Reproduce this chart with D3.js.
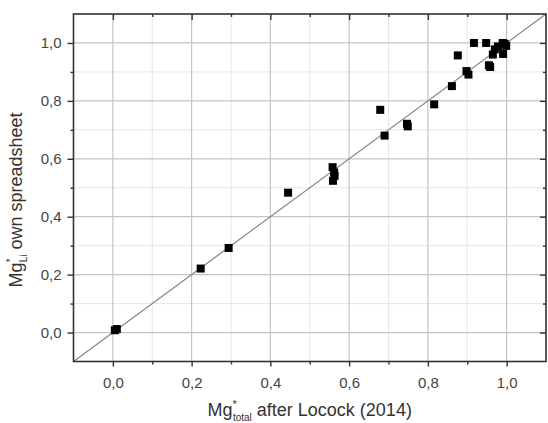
<!DOCTYPE html>
<html>
<head>
<meta charset="utf-8">
<script src="https://cdn.jsdelivr.net/npm/d3@7"></script>
<style>
  html, body { margin: 0; padding: 0; background: #fff; }
  svg { display: block; font-family: "Liberation Sans", Arial, sans-serif; }
</style>
</head>
<body>
<svg id="chart" width="548" height="423"></svg>
<script>
// Mg* comparison: Locock (2014) vs. own spreadsheet
const mgTotal = [0.005, 0.010, 0.223, 0.294, 0.445, 0.558, 0.562, 0.563, 0.559,
                 0.679, 0.690, 0.747, 0.749, 0.816, 0.861, 0.876, 0.898, 0.903,
                 0.917, 0.948, 0.955, 0.958, 0.965, 0.970, 0.978, 0.991, 0.990,
                 0.995, 0.999];
const mgLi    = [0.008, 0.012, 0.221, 0.292, 0.483, 0.571, 0.553, 0.541, 0.524,
                 0.769, 0.680, 0.721, 0.712, 0.788, 0.851, 0.957, 0.903, 0.891,
                 1.000, 1.000, 0.923, 0.917, 0.960, 0.978, 0.988, 0.962, 1.000,
                 0.997, 0.990];

const majorTicks = [0.0, 0.2, 0.4, 0.6, 0.8, 1.0];
const minorTicks = [-0.1, 0.1, 0.3, 0.5, 0.7, 0.9, 1.1];
const axisDomain = [-0.1, 1.1];

const svg = d3.select("#chart");
const plotL = 73.5, plotR = 546, plotT = 14, plotB = 361.5;

const x = d3.scaleLinear().domain(axisDomain).range([plotL, plotR]);
const y = d3.scaleLinear().domain(axisDomain).range([plotB, plotT]);
const fmt = d => d3.format(".1f")(d).replace(".", ",");

// grid
const grid = svg.append("g");
grid.selectAll(".vminor").data(minorTicks).join("line")
  .attr("x1", d => x(d)).attr("x2", d => x(d)).attr("y1", plotT).attr("y2", plotB)
  .attr("stroke", "#e6e6e6").attr("stroke-width", 1);
grid.selectAll(".hminor").data(minorTicks).join("line")
  .attr("y1", d => y(d)).attr("y2", d => y(d)).attr("x1", plotL).attr("x2", plotR)
  .attr("stroke", "#e6e6e6").attr("stroke-width", 1);
grid.selectAll(".vmajor").data(majorTicks).join("line")
  .attr("x1", d => x(d)).attr("x2", d => x(d)).attr("y1", plotT).attr("y2", plotB)
  .attr("stroke", "#c4c4c4").attr("stroke-width", 1.2);
grid.selectAll(".hmajor").data(majorTicks).join("line")
  .attr("y1", d => y(d)).attr("y2", d => y(d)).attr("x1", plotL).attr("x2", plotR)
  .attr("stroke", "#c4c4c4").attr("stroke-width", 1.2);

// 1:1 line
svg.append("line")
  .attr("x1", x(axisDomain[0])).attr("y1", y(axisDomain[0]))
  .attr("x2", x(axisDomain[1])).attr("y2", y(axisDomain[1]))
  .attr("stroke", "#8a8a8a").attr("stroke-width", 1.3);

// data points
const s = 8;
svg.append("g").selectAll("rect").data(mgTotal).join("rect")
  .attr("x", d => x(d) - s / 2)
  .attr("y", (d, i) => y(mgLi[i]) - s / 2)
  .attr("width", s).attr("height", s)
  .attr("fill", "#000");

// axes
const axisColor = "#333";
function styleAxis(g) {
  g.select(".domain").remove();
  g.selectAll("line").attr("stroke", axisColor).attr("stroke-width", 1.4);
  g.selectAll("text").attr("fill", "#444").attr("font-size", 15);
}
const innerMinor = minorTicks.filter(d => d > axisDomain[0] && d < axisDomain[1]);

svg.append("g").attr("transform", `translate(0,${plotB})`)
  .call(d3.axisBottom(x).tickValues(majorTicks).tickFormat(fmt).tickSize(5).tickPadding(11))
  .call(styleAxis);
svg.append("g").attr("transform", `translate(0,${plotB})`)
  .call(d3.axisBottom(x).tickValues(innerMinor).tickFormat("").tickSize(3))
  .call(styleAxis);

svg.append("g").attr("transform", `translate(${plotL},0)`)
  .call(d3.axisLeft(y).tickValues(majorTicks).tickFormat(fmt).tickSize(6).tickPadding(6))
  .call(styleAxis);
svg.append("g").attr("transform", `translate(${plotL},0)`)
  .call(d3.axisLeft(y).tickValues(innerMinor).tickFormat("").tickSize(3))
  .call(styleAxis);

svg.append("g").attr("transform", `translate(0,${plotT})`)
  .call(d3.axisTop(x).tickValues(majorTicks).tickFormat("").tickSize(-6))
  .call(styleAxis);
svg.append("g").attr("transform", `translate(0,${plotT})`)
  .call(d3.axisTop(x).tickValues(innerMinor).tickFormat("").tickSize(-3))
  .call(styleAxis);

svg.append("g").attr("transform", `translate(${plotR},0)`)
  .call(d3.axisRight(y).tickValues(majorTicks).tickFormat("").tickSize(-6))
  .call(styleAxis);
svg.append("g").attr("transform", `translate(${plotR},0)`)
  .call(d3.axisRight(y).tickValues(innerMinor).tickFormat("").tickSize(-3))
  .call(styleAxis);

// frame
svg.append("rect")
  .attr("x", plotL).attr("y", plotT).attr("width", plotR - plotL).attr("height", plotB - plotT)
  .attr("fill", "none").attr("stroke", axisColor).attr("stroke-width", 1.6);

// axis titles
const xt = svg.append("text")
  .attr("x", (plotL + plotR) / 2).attr("y", 416)
  .attr("text-anchor", "middle").attr("font-size", 18).attr("fill", "#333");
xt.append("tspan").text("Mg");
xt.append("tspan").attr("font-size", 11).attr("dy", -8).text("*");
xt.append("tspan").attr("font-size", 10).attr("dx", -4).attr("dy", 13).text("total");
xt.append("tspan").attr("dy", -5).text(" after Locock (2014)");

const yt = svg.append("text")
  .attr("transform", "translate(22,200) rotate(-90)")
  .attr("text-anchor", "middle").attr("font-size", 18).attr("fill", "#333");
yt.append("tspan").text("Mg");
yt.append("tspan").attr("font-size", 11).attr("dy", -8).text("*");
yt.append("tspan").attr("font-size", 10).attr("dx", -4).attr("dy", 13).text("Li");
yt.append("tspan").attr("dy", -5).text(" own spreadsheet");
</script>
</body>
</html>
